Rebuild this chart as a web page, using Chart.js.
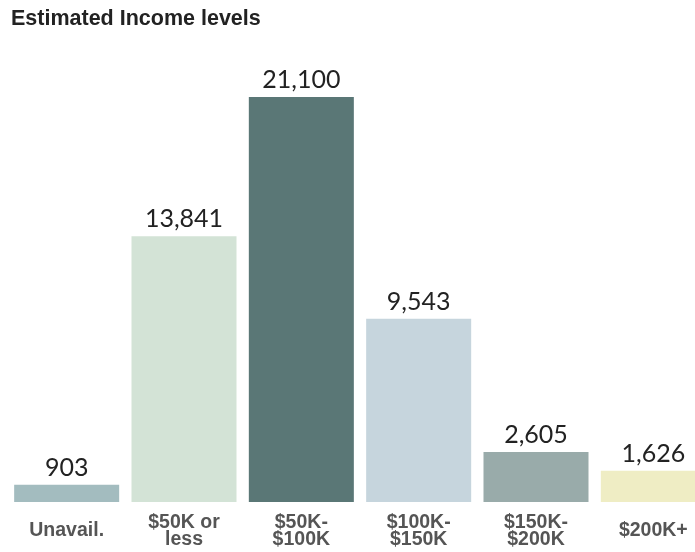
<!DOCTYPE html>
<html>
<head>
<meta charset="utf-8">
<script src="https://cdn.jsdelivr.net/npm/chart.js@4"></script>
<style>
    html, body { margin: 0; padding: 0; background: #fff; overflow: hidden; }
    #wrap { position: relative; width: 712px; height: 552px; }
</style>
</head>
<body>
<div id="wrap">
    <canvas id="incomeChart" width="712" height="552"></canvas>
</div>
<script>
// Income brackets and counts
var chartTitle = 'Estimated Income levels';
var incomeLabels = [['Unavail.'], ['$50K or', 'less'], ['$50K-', '$100K'], ['$100K-', '$150K'], ['$150K-', '$200K'], ['$200K+']];
var incomeCounts = [903, 13841, 21100, 9543, 2605, 1626];
var incomeColors = ['#a3bcbf', '#d3e3d6', '#5a7776', '#c6d5dd', '#99abaa', '#efedc4'];

// Draws the title, the number above each bar and the bracket name under it
var barLabels = {
    id: 'barLabels',
    afterDatasetsDraw: function(chart) {
        var ctx = chart.ctx;
        var meta = chart.getDatasetMeta(0);
        var xScale = chart.scales.x;
        var bottom = chart.chartArea.bottom;
        ctx.save();

        ctx.fillStyle = '#222';
        ctx.font = 'bold 21.5px "Liberation Sans", Arial, sans-serif';
        ctx.textAlign = 'left';
        ctx.textBaseline = 'alphabetic';
        ctx.fillText(chartTitle, 11, 25);

        ctx.textAlign = 'center';
        meta.data.forEach(function(bar, i) {
            ctx.fillStyle = '#222';
            ctx.font = '400 25px Lato, "DejaVu Sans", sans-serif';
            ctx.fillText(incomeCounts[i].toLocaleString('en-US'), bar.x, bar.y - 9);

            var lines = incomeLabels[i];
            ctx.fillStyle = '#555';
            ctx.font = 'bold 19.5px "Liberation Sans", Arial, sans-serif';
            var x = xScale.getPixelForValue(i);
            if (lines.length === 1) {
                ctx.fillText(lines[0], x, bottom + 34);
            } else {
                ctx.fillText(lines[0], x, bottom + 26);
                ctx.fillText(lines[1], x, bottom + 43);
            }
        });
        ctx.restore();
    }
};

var ctx = document.getElementById('incomeChart').getContext('2d');
new Chart(ctx, {
    type: 'bar',
    data: {
        labels: incomeLabels,
        datasets: [{
            label: chartTitle,
            data: incomeCounts,
            backgroundColor: incomeColors,
            borderWidth: 0,
            barPercentage: 0.895,
            categoryPercentage: 1
        }]
    },
    options: {
        responsive: false,
        animation: false,
        layout: {
            padding: { top: 97, bottom: 50, left: 8, right: 0 }
        },
        scales: {
            x: {
                display: false
            },
            y: {
                display: false,
                min: 0,
                max: 21100
            }
        },
        plugins: {
            legend: { display: false },
            title: { display: false },
            tooltip: { enabled: false }
        }
    },
    plugins: [barLabels]
});
</script>
</body>
</html>
